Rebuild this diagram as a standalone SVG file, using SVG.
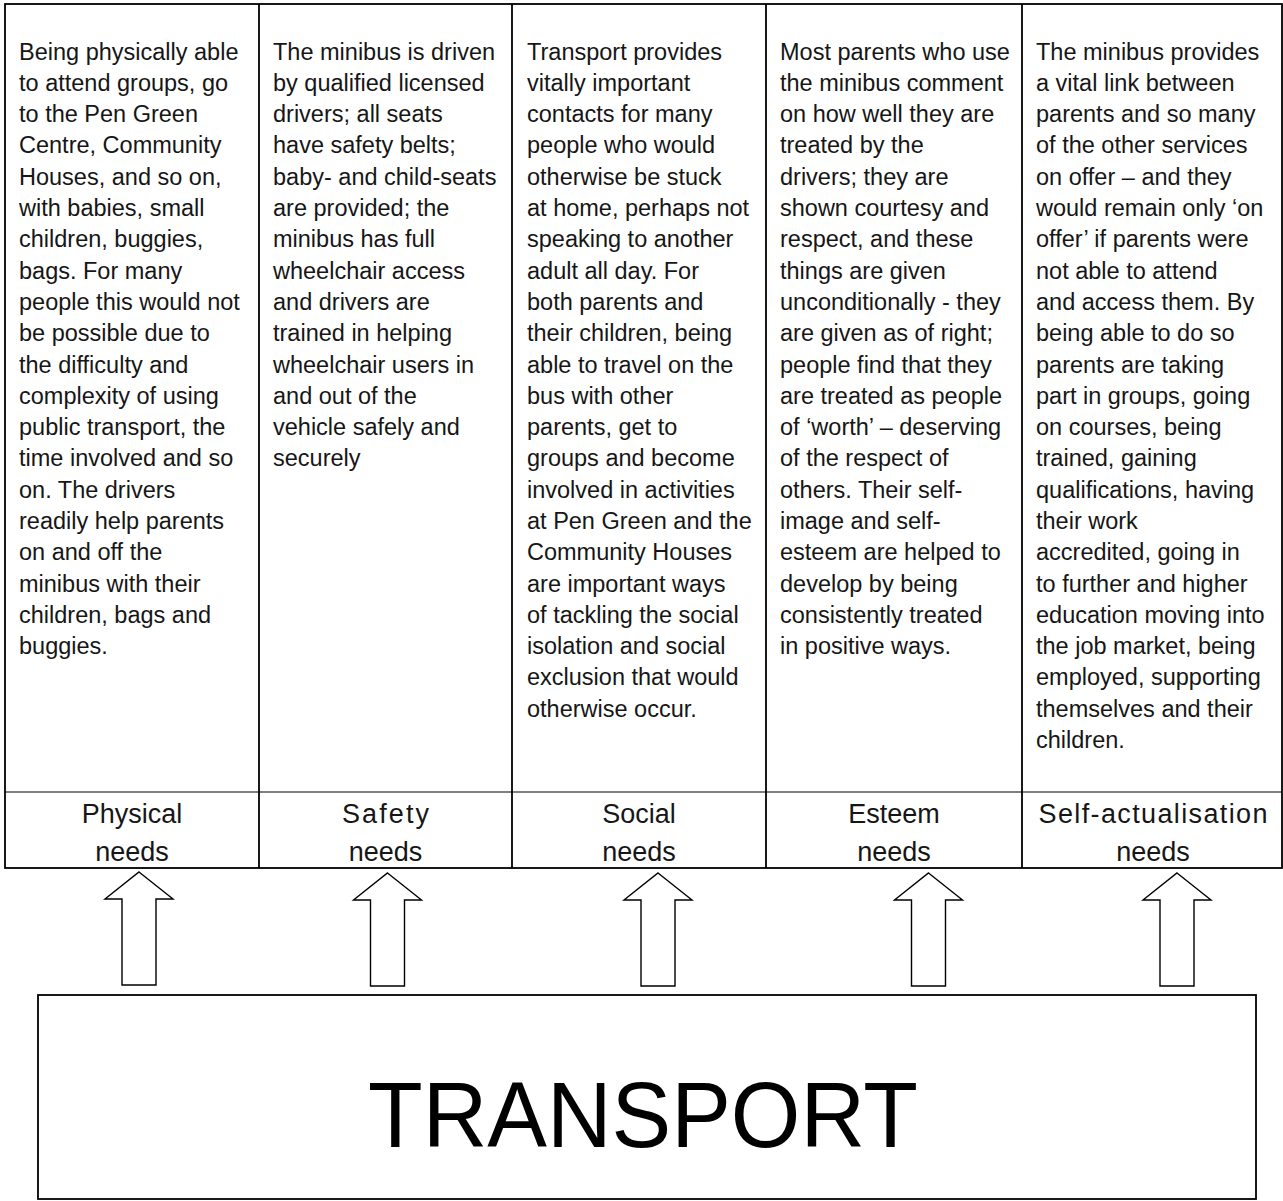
<svg xmlns="http://www.w3.org/2000/svg" xmlns:xlink="http://www.w3.org/1999/xlink" width="1283" height="1201" viewBox="0 0 1283 1201">
  <style>
    .body { font-family: "Liberation Sans", Arial, sans-serif; font-size: 23.5px; fill: #161616; }
    .head { font-family: "Liberation Sans", Arial, sans-serif; font-size: 27px; fill: #161616; text-anchor: middle; }
    .title { font-family: "Liberation Sans", Arial, sans-serif; font-size: 92px; fill: #000; }
    .rule { stroke: #000; stroke-width: 1.8; fill: none; }
    .thin { stroke: #000; stroke-width: 1.2; fill: none; }
    .arrow { fill: #fff; stroke: #000; stroke-width: 1.4; stroke-linejoin: miter; }
  </style>
  <defs>
    <!-- hollow block arrow, tip at origin, pointing up -->
    <path id="up-arrow" d="M0,0 L34,27 L17,27 L17,113 L-17,113 L-17,27 L-34,27 Z"/>
  </defs>

  <rect width="1283" height="1201" fill="#fff"/>

  <!-- table frame -->
  <g id="table">
    <rect class="rule" x="5" y="4" width="1277" height="864"/>
    <line class="rule" x1="259" y1="4" x2="259" y2="868"/>
    <line class="rule" x1="512" y1="4" x2="512" y2="868"/>
    <line class="rule" x1="766" y1="4" x2="766" y2="868"/>
    <line class="rule" x1="1022" y1="4" x2="1022" y2="868"/>
    <line class="thin" x1="5" y1="792" x2="1282" y2="792"/>
  </g>

  <g id="physical">
    <text class="body" x="19" y="59.5">
      <tspan x="19" dy="0">Being physically able</tspan>
      <tspan x="19" dy="31.3">to attend groups, go</tspan>
      <tspan x="19" dy="31.3">to the Pen Green</tspan>
      <tspan x="19" dy="31.3">Centre, Community</tspan>
      <tspan x="19" dy="31.3">Houses, and so on,</tspan>
      <tspan x="19" dy="31.3">with babies, small</tspan>
      <tspan x="19" dy="31.3">children, buggies,</tspan>
      <tspan x="19" dy="31.3">bags. For many</tspan>
      <tspan x="19" dy="31.3">people this would not</tspan>
      <tspan x="19" dy="31.3">be possible due to</tspan>
      <tspan x="19" dy="31.3">the difficulty and</tspan>
      <tspan x="19" dy="31.3">complexity of using</tspan>
      <tspan x="19" dy="31.3">public transport, the</tspan>
      <tspan x="19" dy="31.3">time involved and so</tspan>
      <tspan x="19" dy="31.3">on. The drivers</tspan>
      <tspan x="19" dy="31.3">readily help parents</tspan>
      <tspan x="19" dy="31.3">on and off the</tspan>
      <tspan x="19" dy="31.3">minibus with their</tspan>
      <tspan x="19" dy="31.3">children, bags and</tspan>
      <tspan x="19" dy="31.3">buggies.</tspan>
    </text>
    <text class="head" x="132" y="823">Physical</text>
    <text class="head" x="132" y="861">needs</text>
  </g>

  <g id="safety">
    <text class="body" x="273" y="59.5">
      <tspan x="273" dy="0">The minibus is driven</tspan>
      <tspan x="273" dy="31.3">by qualified licensed</tspan>
      <tspan x="273" dy="31.3">drivers; all seats</tspan>
      <tspan x="273" dy="31.3">have safety belts;</tspan>
      <tspan x="273" dy="31.3">baby- and child-seats</tspan>
      <tspan x="273" dy="31.3">are provided; the</tspan>
      <tspan x="273" dy="31.3">minibus has full</tspan>
      <tspan x="273" dy="31.3">wheelchair access</tspan>
      <tspan x="273" dy="31.3">and drivers are</tspan>
      <tspan x="273" dy="31.3">trained in helping</tspan>
      <tspan x="273" dy="31.3">wheelchair users in</tspan>
      <tspan x="273" dy="31.3">and out of the</tspan>
      <tspan x="273" dy="31.3">vehicle safely and</tspan>
      <tspan x="273" dy="31.3">securely</tspan>
    </text>
    <text class="head" x="385.5" y="823" textLength="87" lengthAdjust="spacing">Safety</text>
    <text class="head" x="385.5" y="861">needs</text>
  </g>

  <g id="social">
    <text class="body" x="527" y="59.5">
      <tspan x="527" dy="0">Transport provides</tspan>
      <tspan x="527" dy="31.3">vitally important</tspan>
      <tspan x="527" dy="31.3">contacts for many</tspan>
      <tspan x="527" dy="31.3">people who would</tspan>
      <tspan x="527" dy="31.3">otherwise be stuck</tspan>
      <tspan x="527" dy="31.3">at home, perhaps not</tspan>
      <tspan x="527" dy="31.3">speaking to another</tspan>
      <tspan x="527" dy="31.3">adult all day. For</tspan>
      <tspan x="527" dy="31.3">both parents and</tspan>
      <tspan x="527" dy="31.3">their children, being</tspan>
      <tspan x="527" dy="31.3">able to travel on the</tspan>
      <tspan x="527" dy="31.3">bus with other</tspan>
      <tspan x="527" dy="31.3">parents, get to</tspan>
      <tspan x="527" dy="31.3">groups and become</tspan>
      <tspan x="527" dy="31.3">involved in activities</tspan>
      <tspan x="527" dy="31.3">at Pen Green and the</tspan>
      <tspan x="527" dy="31.3">Community Houses</tspan>
      <tspan x="527" dy="31.3">are important ways</tspan>
      <tspan x="527" dy="31.3">of tackling the social</tspan>
      <tspan x="527" dy="31.3">isolation and social</tspan>
      <tspan x="527" dy="31.3">exclusion that would</tspan>
      <tspan x="527" dy="31.3">otherwise occur.</tspan>
    </text>
    <text class="head" x="639" y="823">Social</text>
    <text class="head" x="639" y="861">needs</text>
  </g>

  <g id="esteem">
    <text class="body" x="780" y="59.5">
      <tspan x="780" dy="0">Most parents who use</tspan>
      <tspan x="780" dy="31.3">the minibus comment</tspan>
      <tspan x="780" dy="31.3">on how well they are</tspan>
      <tspan x="780" dy="31.3">treated by the</tspan>
      <tspan x="780" dy="31.3">drivers; they are</tspan>
      <tspan x="780" dy="31.3">shown courtesy and</tspan>
      <tspan x="780" dy="31.3">respect, and these</tspan>
      <tspan x="780" dy="31.3">things are given</tspan>
      <tspan x="780" dy="31.3">unconditionally - they</tspan>
      <tspan x="780" dy="31.3">are given as of right;</tspan>
      <tspan x="780" dy="31.3">people find that they</tspan>
      <tspan x="780" dy="31.3">are treated as people</tspan>
      <tspan x="780" dy="31.3">of ‘worth’ – deserving</tspan>
      <tspan x="780" dy="31.3">of the respect of</tspan>
      <tspan x="780" dy="31.3">others. Their self-</tspan>
      <tspan x="780" dy="31.3">image and self-</tspan>
      <tspan x="780" dy="31.3">esteem are helped to</tspan>
      <tspan x="780" dy="31.3">develop by being</tspan>
      <tspan x="780" dy="31.3">consistently treated</tspan>
      <tspan x="780" dy="31.3">in positive ways.</tspan>
    </text>
    <text class="head" x="894" y="823">Esteem</text>
    <text class="head" x="894" y="861">needs</text>
  </g>

  <g id="self-actualisation">
    <text class="body" x="1036" y="59.5">
      <tspan x="1036" dy="0">The minibus provides</tspan>
      <tspan x="1036" dy="31.3">a vital link between</tspan>
      <tspan x="1036" dy="31.3">parents and so many</tspan>
      <tspan x="1036" dy="31.3">of the other services</tspan>
      <tspan x="1036" dy="31.3">on offer – and they</tspan>
      <tspan x="1036" dy="31.3">would remain only ‘on</tspan>
      <tspan x="1036" dy="31.3">offer’ if parents were</tspan>
      <tspan x="1036" dy="31.3">not able to attend</tspan>
      <tspan x="1036" dy="31.3">and access them. By</tspan>
      <tspan x="1036" dy="31.3">being able to do so</tspan>
      <tspan x="1036" dy="31.3">parents are taking</tspan>
      <tspan x="1036" dy="31.3">part in groups, going</tspan>
      <tspan x="1036" dy="31.3">on courses, being</tspan>
      <tspan x="1036" dy="31.3">trained, gaining</tspan>
      <tspan x="1036" dy="31.3">qualifications, having</tspan>
      <tspan x="1036" dy="31.3">their work</tspan>
      <tspan x="1036" dy="31.3">accredited, going in</tspan>
      <tspan x="1036" dy="31.3">to further and higher</tspan>
      <tspan x="1036" dy="31.3">education moving into</tspan>
      <tspan x="1036" dy="31.3">the job market, being</tspan>
      <tspan x="1036" dy="31.3">employed, supporting</tspan>
      <tspan x="1036" dy="31.3">themselves and their</tspan>
      <tspan x="1036" dy="31.3">children.</tspan>
    </text>
    <text class="head" x="1153" y="823" textLength="229" lengthAdjust="spacing">Self-actualisation</text>
    <text class="head" x="1153" y="861">needs</text>
  </g>

  <!-- arrows from the transport box up to each need -->
  <g id="connectors">
    <use xlink:href="#up-arrow" class="arrow" x="139" y="872"/>
    <use xlink:href="#up-arrow" class="arrow" x="387.5" y="873"/>
    <use xlink:href="#up-arrow" class="arrow" x="658" y="873"/>
    <use xlink:href="#up-arrow" class="arrow" x="928.5" y="873"/>
    <use xlink:href="#up-arrow" class="arrow" x="1177" y="873"/>
  </g>

  <g id="transport">
    <rect x="38" y="995" width="1218" height="204" fill="#fff" stroke="#000" stroke-width="1.8"/>
    <text class="title" x="368" y="1147" textLength="550" lengthAdjust="spacingAndGlyphs">TRANSPORT</text>
  </g>
</svg>
